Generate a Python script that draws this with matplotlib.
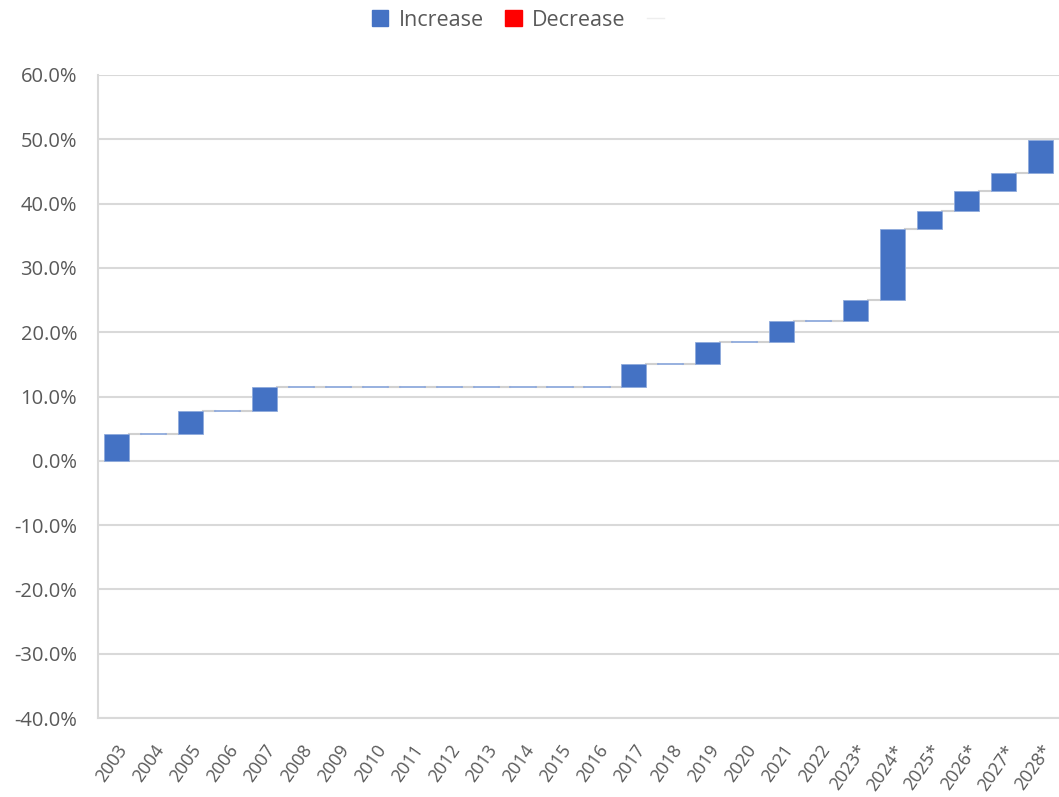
import numpy as np
import matplotlib.pyplot as plt
from matplotlib.patches import Patch
from matplotlib.lines import Line2D

plt.rcParams['font.family'] = ['Open Sans', 'DejaVu Sans']

years = ['2003', '2004', '2005', '2006', '2007', '2008', '2009', '2010', '2011',
         '2012', '2013', '2014', '2015', '2016', '2017', '2018', '2019', '2020',
         '2021', '2022', '2023*', '2024*', '2025*', '2026*', '2027*', '2028*']
# yearly change in percentage points
changes = [4.1, 0, 3.7, 0, 3.7, 0, 0, 0, 0, 0, 0, 0, 0, 0, 3.6, 0, 3.4, 0,
           3.3, 0, 3.2, 11.0, 2.9, 3.0, 2.9, 5.1]

blue = '#4472C4'
red = '#FF0000'
grey_txt = '#595959'
grid_col = '#D9D9D9'

changes = np.array(changes)
ends = np.cumsum(changes)
starts = ends - changes
x = np.arange(len(years))
w = 0.68

fig = plt.figure(figsize=(10.59, 7.97), dpi=100)
ax = fig.add_axes([0.0925, 0.099, 0.9075, 0.807])

for i in range(len(years)):
    if changes[i] > 0:
        ax.bar(x[i], changes[i], bottom=starts[i], width=w, color=blue,
               edgecolor='#8FAADC', linewidth=0.6, zorder=3)
    elif changes[i] < 0:
        ax.bar(x[i], changes[i], bottom=starts[i], width=w, color=red,
               edgecolor=red, linewidth=0.6, zorder=3)
    else:
        ax.plot([x[i] - w / 2, x[i] + w / 2], [ends[i], ends[i]],
                color='#8FAADC', lw=1.3, zorder=3)

# connectors
for i in range(len(years) - 1):
    ax.plot([x[i] + w / 2, x[i + 1] - w / 2], [ends[i], ends[i]],
            color='#D0D0D0', lw=1.5, zorder=2)

ax.set_xlim(-0.5, len(years) - 0.5)
ax.set_ylim(-40, 60)
ax.set_yticks(np.arange(-40, 61, 10))
ax.set_yticklabels(['%.1f%%' % v for v in np.arange(-40, 61, 10)],
                   fontsize=14.5, color=grey_txt)
ax.set_xticks(x)
ax.set_xticklabels(years, rotation=55, fontsize=13, color=grey_txt,
                   ha='right', va='top', rotation_mode='anchor')
ax.tick_params(axis='y', length=0, pad=15)
ax.tick_params(axis='x', length=0, pad=17)
ax.grid(axis='y', color=grid_col, lw=1.5, zorder=0)
ax.set_axisbelow(True)
for s in ['top', 'right']:
    ax.spines[s].set_visible(False)
ax.spines['left'].set_color(grid_col)
ax.spines['left'].set_linewidth(1.5)
ax.spines['bottom'].set_color(grid_col)
ax.spines['bottom'].set_linewidth(1.5)

handles = [Patch(color=blue, label='Increase'),
           Patch(color=red, label='Decrease'),
           Line2D([], [], color='#EEEEEE', lw=1, label=' ')]
leg = fig.legend(handles=handles, loc='upper center', bbox_to_anchor=(0.4966, 1.012),
                 ncol=3, frameon=False, fontsize=15.5, handlelength=0.75,
                 handleheight=0.75, columnspacing=1.0, handletextpad=0.5)
for t in leg.get_texts():
    t.set_color(grey_txt)

fig.savefig('out.png', dpi=100)
